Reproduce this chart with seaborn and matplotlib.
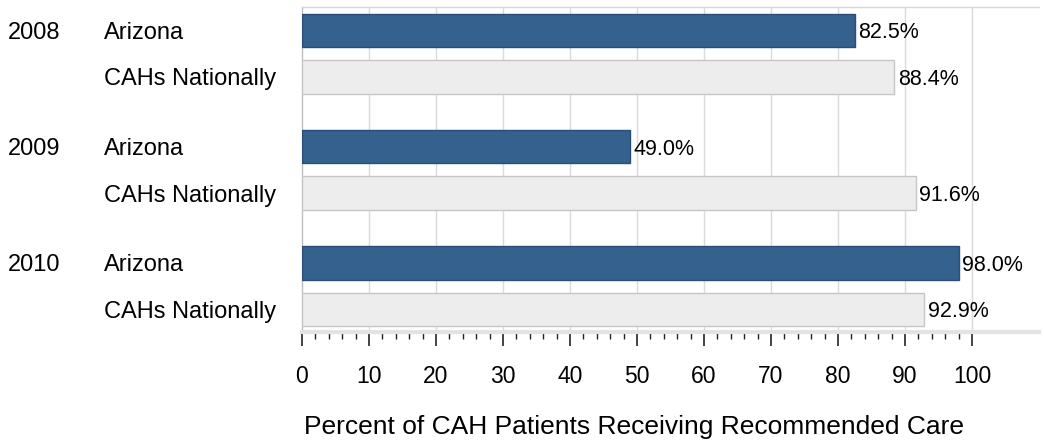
import numpy as np
import pandas as pd
import matplotlib
matplotlib.use("Agg")
import matplotlib.pyplot as plt
import matplotlib.transforms as mtransforms
import seaborn as sns

# ---- data ----
years = ["2008", "2009", "2010"]
series = ["Arizona", "CAHs Nationally"]
arizona = [82.5, 49.0, 98.0]
nationally = [88.4, 91.6, 92.9]
xlabel = "Percent of CAH Patients Receiving Recommended Care"

sns.set_theme(style="white")
plt.rcParams["font.family"] = ["Liberation Sans", "DejaVu Sans"]
plt.rcParams["text.color"] = "black"
plt.rcParams["axes.labelcolor"] = "black"
plt.rcParams["xtick.color"] = "black"

rows = []
for gi, yr in enumerate(years):
    for si, (name, vals) in enumerate(zip(series, [arizona, nationally])):
        rows.append({"year": yr, "series": name, "value": vals[gi],
                     "pos": gi * 2.5 + si})
df = pd.DataFrame(rows)

fig = plt.figure(figsize=(10.44, 4.41), dpi=100)
ax = fig.add_axes([302 / 1044, 1 - 332 / 441, (1039 - 302) / 1044, (332 - 7) / 441])

palette = {"Arizona": "#35618f", "CAHs Nationally": "#ededed"}
sns.barplot(data=df, x="value", y="pos", hue="series", orient="h",
            native_scale=True, dodge=False, width=0.72, palette=palette,
            saturation=1, legend=False, ax=ax, zorder=3)

for patch in ax.patches:
    r, g, b, _ = patch.get_facecolor()
    dark = (r + g + b) / 3 < 0.6
    patch.set_edgecolor("#2a4e78" if dark else "#c6c6c6")
    patch.set_linewidth(1.0)

ax.set_xlim(0, 110)
ax.set_ylim(6.48, -0.5)
ax.set_xticks(np.arange(0, 101, 10))
ax.set_xticks(np.arange(2, 100, 2), minor=True)
ax.set_xticklabels([str(v) for v in range(0, 101, 10)], fontsize=16.5)
ax.tick_params(axis="x", which="major", direction="out", length=10, width=1.1,
               color="#111111", labelcolor="black", pad=14, bottom=True)
ax.tick_params(axis="x", which="minor", direction="out", length=5, width=1.0,
               color="#222222", bottom=True)
ax.set_yticks([])
ax.set_ylabel("")
ax.grid(False)
for v in range(10, 101, 10):
    ax.axvline(v, color="#dadada", lw=1, zorder=1)

ax.set_xlabel(xlabel, fontsize=19, color="black")
ax.xaxis.set_label_coords(49.5 / 110, -0.255)

ax.spines["right"].set_visible(False)
ax.spines["left"].set_color("#bdbdbd")
ax.spines["left"].set_linewidth(1)
ax.spines["top"].set_color("#d6d6d6")
ax.spines["top"].set_linewidth(1)
ax.spines["bottom"].set_color("#e3e3e3")
ax.spines["bottom"].set_linewidth(3)

# value labels
for _, r in df.iterrows():
    ax.text(r["value"] + 0.5, r["pos"] + 0.05, f"{r['value']:.1f}%",
            va="center", ha="left", fontsize=15.5, color="black", zorder=4)

# left labels
trans = mtransforms.blended_transform_factory(fig.transFigure, ax.transData)
for _, r in df.iterrows():
    if r["series"] == series[0]:
        ax.text(8 / 1044, r["pos"] + 0.05, r["year"], transform=trans,
                ha="left", va="center", fontsize=17, color="black")
    ax.text(104 / 1044, r["pos"] + 0.05, r["series"], transform=trans,
            ha="left", va="center", fontsize=17, color="black")

fig.savefig("out.png", dpi=100)
